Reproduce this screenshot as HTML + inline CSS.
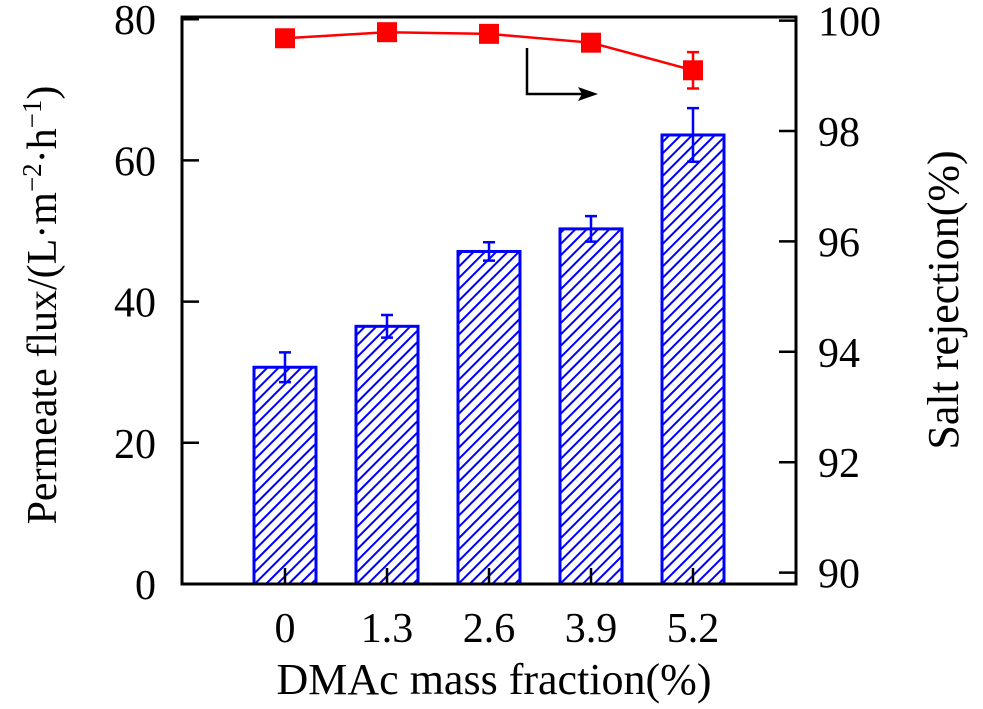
<!DOCTYPE html>
<html><head><meta charset="utf-8"><style>
html,body{margin:0;padding:0;background:#fff;}
svg{display:block;font-family:"Liberation Serif",serif;}
</style></head><body>
<svg id="chart" width="983" height="709" viewBox="0 0 983 709">
<defs>
<pattern id="hatch" patternUnits="userSpaceOnUse" width="8" height="8" patternTransform="rotate(45)">
<rect width="8" height="8" fill="#fff"/>
<line x1="0" y1="0" x2="0" y2="8" stroke="#0000ff" stroke-width="4"/>
</pattern>
</defs>
<g id="bars"></g>
<g id="line"></g>
<rect x="182" y="17" width="614" height="567" fill="none" stroke="#000" stroke-width="3"/>
<g id="axes"></g>
<g>
<polyline points="527,48 527,94 582,94" fill="none" stroke="#000" stroke-width="2.5"/>
<polygon points="598,94 578,87 582,94 578,101" fill="#000"/>
</g>
<text x="494" y="694" font-size="44" text-anchor="middle">DMAc mass fraction(%)</text>
<text transform="translate(56,305) rotate(-90)" font-size="42" text-anchor="middle">Permeate flux/(L·m<tspan dy="-15" font-size="27">−2</tspan><tspan dy="15">·h</tspan><tspan dy="-15" font-size="27">−1</tspan><tspan dy="15">)</tspan></text>
<text transform="translate(958,300) rotate(-90)" font-size="44" text-anchor="middle">Salt rejection(%)</text>
</svg>
<script>
const categories = ["0","1.3","2.6","3.9","5.2"];
const fluxValues = [30.7, 36.5, 47.1, 50.3, 63.6];
const fluxErrors = [2.1, 1.6, 1.3, 1.8, 3.8];
const rejectionValues = [99.68, 99.79, 99.76, 99.6, 99.1];
const rejectionErrors = [0.02, 0.02, 0.02, 0.08, 0.33];
const leftTicks = [0, 20, 40, 60, 80];
const rightTicks = [90, 92, 94, 96, 98, 100];

const NS = "http://www.w3.org/2000/svg";
function el(tag, attrs, parent){const e=document.createElementNS(NS,tag);for(const k in attrs)e.setAttribute(k,attrs[k]);parent.appendChild(e);return e;}
const xPos = i => 285 + 102*i;
const yL = v => 584 - v*7.06;
const yR = v => 131 + (98 - v)*55.2;
const bars = document.getElementById('bars');
const line = document.getElementById('line');
const axes = document.getElementById('axes');
const bw = 62;

fluxValues.forEach((v,i)=>{
  const x = xPos(i);
  const r = el('rect',{x:x-bw/2,y:yL(v),width:bw,height:584-yL(v),fill:'url(#hatch)',stroke:'#0000ff','stroke-width':3},bars);
  
  
  const e = fluxErrors[i];
  const g = el('path',{d:`M${x},${yL(v+e)}V${yL(v-e)}M${x-6},${yL(v+e)}H${x+6}M${x-6},${yL(v-e)}H${x+6}`,stroke:'#0000ff','stroke-width':2.5,fill:'none'},bars);
  
  
});

const pts = rejectionValues.map((v,i)=>xPos(i)+','+yR(v)).join(' ');
const pl = el('polyline',{points:pts,fill:'none',stroke:'#ff0000','stroke-width':2.5},line);


rejectionValues.forEach((v,i)=>{
  const x = xPos(i), e = rejectionErrors[i];
  const eb = el('path',{d:`M${x},${yR(v+e)}V${yR(v-e)}M${x-6},${yR(v+e)}H${x+6}M${x-6},${yR(v-e)}H${x+6}`,stroke:'#ff0000','stroke-width':2.5,fill:'none'},line);
  
  
  const m = el('rect',{x:x-10,y:yR(v)-10,width:20,height:20,fill:'#ff0000'},line);
  
  
});

categories.forEach((c,i)=>{
  const x = xPos(i);
  el('line',{x1:x,y1:584,x2:x,y2:568,stroke:'#000','stroke-width':2.5},axes);
  const t = el('text',{x:x,y:642,'font-size':42,'text-anchor':'middle'},axes);
  t.textContent = c;
  
  
});
leftTicks.forEach(v=>{
  const y = yL(v);
  el('line',{x1:182,y1:y,x2:199,y2:y,stroke:'#000','stroke-width':2.5},axes);
  const t = el('text',{x:156,y:y+15,'font-size':42,'text-anchor':'end'},axes);
  t.textContent = v;
  
  
});
rightTicks.forEach(v=>{
  const y = yR(v);
  el('line',{x1:796,y1:y,x2:779,y2:y,stroke:'#000','stroke-width':2.5},axes);
  const t = el('text',{x:818,y:y+15,'font-size':42,'text-anchor':'start'},axes);
  t.textContent = v;
  
  
});
</script>
</body></html>
